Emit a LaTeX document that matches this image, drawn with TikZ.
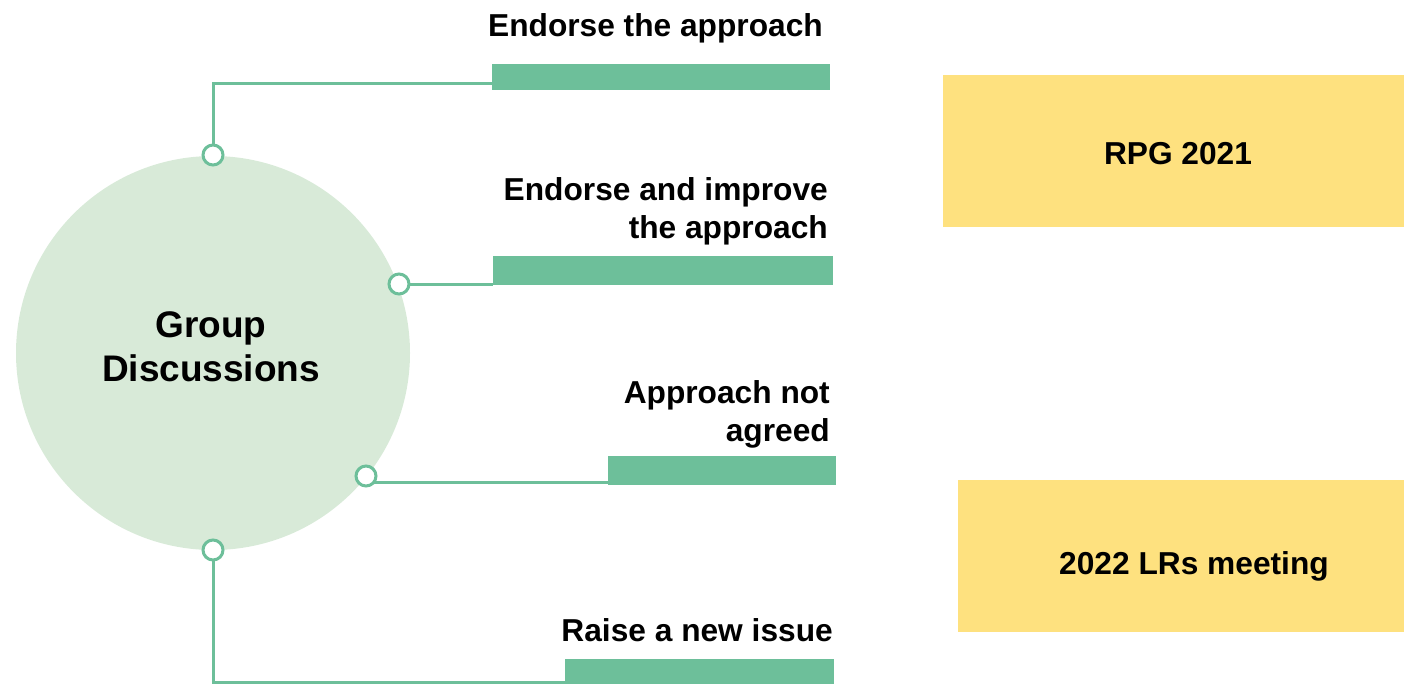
\documentclass[tikz,border=0pt]{standalone}
\usepackage{fontspec}
\setmainfont{Liberation Sans}
\usetikzlibrary{calc}
\definecolor{gbar}{HTML}{6DBF9A}
\definecolor{gcirc}{HTML}{D8EAD8}
\definecolor{ybox}{HTML}{FEE17F}
\pgfdeclarelayer{back}
\pgfdeclarelayer{lines}
\pgfsetlayers{back,lines,main}
\tikzset{
  barbox/.style={fill=gbar, draw=none, inner sep=0pt, anchor=north west},
  ring/.style={circle, draw=gbar, fill=white, line width=3pt, inner sep=0pt, minimum size=20pt},
  conn/.style={draw=gbar, line width=3pt},
  lbl/.style={font=\bfseries\fontsize{31.7}{38}\selectfont, inner sep=0pt, align=right},
  ybx/.style={fill=ybox, draw=none, inner sep=0pt, anchor=north west},
  ytxt/.style={font=\bfseries\fontsize{31.7}{38}\selectfont, inner sep=0pt, anchor=base},
}
\begin{document}
\begin{tikzpicture}[x=1pt,y=-1pt]
\useasboundingbox (0,0) rectangle (1404,683);
% big circle
\begin{pgfonlayer}{back}
\node[circle, fill=gcirc, minimum size=394pt, inner sep=0pt] (gd) at (213,353) {};
\end{pgfonlayer}
\node[font=\bfseries\fontsize{37}{44}\selectfont, align=center, inner sep=0pt] (gdt) at (211,347) {Group\\Discussions};
% bars
\node[barbox, minimum width=338pt, minimum height=26pt] (bar1) at (492,64) {};
\node[barbox, minimum width=340pt, minimum height=29pt] (bar2) at (493,256) {};
\node[barbox, minimum width=228pt, minimum height=29pt] (bar3) at (608,456) {};
\node[barbox, minimum width=269pt, minimum height=25pt] (bar4) at (565,659) {};
% rings
\node[ring] (r1) at (213,155) {};
\node[ring] (r2) at (399,284) {};
\node[ring] (r3) at (366,476) {};
\node[ring] (r4) at (213,550) {};
% connectors
\coordinate (c1) at ($(bar1.south west)+(0,-7)$);
\coordinate (c3) at ($(r3.center)+(0,6)$);
\coordinate (c4) at (bar4.south west);
\begin{pgfonlayer}{lines}
\draw[conn] (r1.center) |- (c1);
\draw[conn] (r2.center) -- (r2.center -| bar2.west);
\draw[conn] (c3) -- (c3 -| bar3.west);
\draw[conn] (r4.center) -- ($(r4.center |- c4)+(0,-1.5)$) -- ($(c4)+(0,-1.5)$);
\end{pgfonlayer}
% labels
\node[lbl, anchor=base east] (l1) at (823,36) {Endorse the approach};
\node[lbl, anchor=east] (l2) at (828,211) {Endorse and improve\\the approach};
\node[lbl, anchor=east] (l3) at (830,414) {Approach not\\agreed};
\node[lbl, anchor=base east] (l4) at (833,641) {Raise a new issue};
% yellow boxes
\node[ybx, minimum width=461pt, minimum height=152pt] (y1) at (943,75) {};
\node[ytxt] (y1t) at (1178,164) {RPG 2021};
\node[ybx, minimum width=446pt, minimum height=152pt] (y2) at (958,480) {};
\node[ytxt] (y2t) at (1194,574) {2022 LRs meeting};
\end{tikzpicture}
\end{document}
